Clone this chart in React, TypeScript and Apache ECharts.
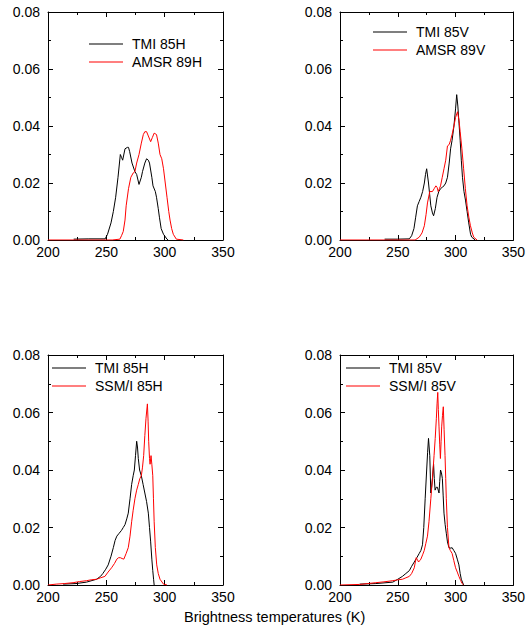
import React, { useEffect, useRef } from "react";
import * as echarts from "echarts";

// x ticks and y ticks (shared by all panels)
const xTicks = [200, 250, 300, 350];
const yTicks = [0, 0.02, 0.04, 0.06, 0.08];

// Panel 1 (top-left): TMI 85H vs AMSR 89H
const tmi85H_a: number[][] = [
  [222, 0.0003], [235, 0.0004], [249, 0.0004], [251, 0.002], [254, 0.006], [256, 0.01], [258, 0.015],
  [260, 0.022], [262, 0.03], [263, 0.029], [264, 0.028], [266, 0.032], [268, 0.0325], [269, 0.0325],
  [270, 0.031], [272, 0.027], [274.5, 0.024], [276, 0.023], [278, 0.0195], [280, 0.022], [281, 0.024],
  [283, 0.027], [284.5, 0.0285], [286, 0.028], [287, 0.027], [289, 0.022], [290, 0.019], [292, 0.017],
  [293, 0.015], [294.5, 0.011], [295.5, 0.008], [297, 0.004], [299, 0.002], [302, 0.0003], [303, 0],
];
const amsr89H: number[][] = [
  [200, 0], [255, 0], [261.6, 0.0003], [263, 0.0015], [264.5, 0.003], [266, 0.007], [267, 0.012],
  [269, 0.018], [271, 0.022], [273, 0.0235], [274.5, 0.024], [276, 0.027], [278, 0.03], [280, 0.034],
  [281.7, 0.037], [283, 0.038], [284.5, 0.038], [286, 0.0365], [288, 0.0345], [289.5, 0.036],
  [291, 0.0375], [293, 0.037], [294.5, 0.034], [296, 0.030], [297.5, 0.0285], [299, 0.025],
  [300.5, 0.02], [302, 0.015], [303.5, 0.01], [304.6, 0.007], [306, 0.004], [307.4, 0.002],
  [310, 0.0003], [316, 0],
];

// Panel 2 (top-right): TMI 85V vs AMSR 89V
const tmi85V_a: number[][] = [
  [238.6, 0.0003], [250, 0.0003], [260, 0.0004], [262, 0.0015], [264, 0.004], [265.5, 0.008],
  [267, 0.012], [268.5, 0.0135], [270, 0.015], [271.5, 0.017], [273, 0.02], [274, 0.023], [275, 0.025],
  [276.6, 0.02], [277.6, 0.016], [278.6, 0.012], [280, 0.0095], [281, 0.0085], [282.5, 0.011],
  [284, 0.015], [285.5, 0.017], [287, 0.018], [288.5, 0.0185], [290, 0.019], [291.5, 0.02],
  [293, 0.022], [294.5, 0.027], [295.7, 0.032], [297, 0.035], [298.6, 0.04], [300, 0.046],
  [301, 0.051], [302, 0.047], [303, 0.041], [304, 0.035], [305, 0.028], [306, 0.022], [307.3, 0.017],
  [308.6, 0.014], [310, 0.01], [311.4, 0.006], [313, 0.002], [314, 0.001], [317, 0],
];
const amsr89V: number[][] = [
  [200, 0], [265, 0], [268.6, 0.001], [271, 0.0025], [273, 0.005], [274.5, 0.009], [275.7, 0.013],
  [277.7, 0.017], [280, 0.017], [281.5, 0.018], [283, 0.019], [284, 0.0185], [285, 0.017],
  [286, 0.018], [287, 0.019], [288.5, 0.022], [290, 0.025], [291.5, 0.028], [293, 0.033],
  [294.5, 0.0335], [295.7, 0.035], [297, 0.037], [298.6, 0.04], [300, 0.043], [301.7, 0.045],
  [303, 0.042], [304, 0.038], [305.5, 0.032], [307, 0.025], [308.5, 0.018], [310, 0.012],
  [311.5, 0.008], [312.9, 0.005], [314.5, 0.0025], [315.7, 0.001], [318.6, 0],
];

// Panel 3 (bottom-left): TMI 85H vs SSM/I 85H
const tmi85H_b: number[][] = [
  [213, 0.0003], [224, 0.0005], [233, 0.001], [241.6, 0.002], [245, 0.003], [247, 0.004],
  [249.5, 0.0055], [251.6, 0.007], [254, 0.01], [256, 0.013], [257.5, 0.0155], [259, 0.017],
  [261, 0.018], [263, 0.019], [264.5, 0.02], [266, 0.021], [267.5, 0.023], [268.8, 0.025],
  [270.3, 0.03], [271.7, 0.035], [273, 0.038], [274, 0.04], [275, 0.045], [276, 0.05],
  [276.7, 0.048], [277.4, 0.044], [278.5, 0.04], [280, 0.038], [281.5, 0.035], [283, 0.032],
  [284.5, 0.029], [286, 0.025], [287, 0.02], [288, 0.015], [289, 0.009], [289.8, 0.005],
  [290.5, 0.002], [291, 0],
];
const ssmi85H: number[][] = [
  [200, 0], [207, 0.0003], [214, 0.0005], [221.5, 0.0008], [227, 0.0012], [233, 0.0015],
  [237, 0.0018], [241.6, 0.002], [245, 0.0025], [248.8, 0.003], [251.5, 0.0045], [254.5, 0.006],
  [257, 0.0075], [259, 0.009], [260.5, 0.0095], [262, 0.0095], [263.5, 0.0092], [265, 0.009],
  [267, 0.011], [268.8, 0.013], [270.3, 0.017], [271.7, 0.022], [273, 0.026], [274.5, 0.03],
  [276, 0.033], [277.4, 0.035], [278.7, 0.037], [280, 0.038], [281, 0.041], [282, 0.045],
  [283, 0.052], [284, 0.058], [285.2, 0.063], [285.8, 0.057], [286.3, 0.05], [287, 0.044],
  [287.5, 0.042], [288.3, 0.045], [289, 0.042], [289.8, 0.038], [290.4, 0.03], [291, 0.022],
  [292, 0.013], [293.2, 0.007], [294.5, 0.004], [296, 0.002], [299, 0.0003], [302, 0],
];

// Panel 4 (bottom-right): TMI 85V vs SSM/I 85V
const tmi85V_b: number[][] = [
  [217, 0.0003], [231, 0.0005], [245.7, 0.001], [250, 0.002], [254, 0.003], [257, 0.004],
  [260, 0.005], [262, 0.0065], [264.3, 0.008], [266.5, 0.0095], [268.6, 0.011], [270, 0.012],
  [271.4, 0.014], [272.5, 0.02], [273.7, 0.03], [275, 0.04], [275.8, 0.046], [276.6, 0.051],
  [277.7, 0.045], [278.6, 0.032], [279.3, 0.034], [280, 0.037], [281, 0.042], [281.6, 0.037],
  [282.3, 0.033], [283.3, 0.034], [284.3, 0.034], [285.7, 0.032], [286.3, 0.036], [287, 0.04],
  [287.8, 0.039], [288.6, 0.037], [289.3, 0.031], [290, 0.025], [291, 0.021], [292, 0.018],
  [293, 0.015], [294.3, 0.013], [296, 0.0128], [297, 0.013], [298.5, 0.012], [300, 0.011],
  [301.5, 0.009], [302.9, 0.007], [304, 0.004], [305, 0.002], [307, 0],
];
const ssmi85V: number[][] = [
  [200, 0], [217, 0.0002], [224, 0.0005], [231, 0.0008], [238, 0.0011], [245.7, 0.0015],
  [250, 0.0018], [254, 0.002], [257, 0.0025], [260, 0.003], [262, 0.004], [264.3, 0.006],
  [265.2, 0.008], [266, 0.0095], [267, 0.0088], [268, 0.008], [269, 0.0085], [270, 0.009],
  [271.5, 0.0105], [272.9, 0.012], [274.3, 0.0145], [275.7, 0.017], [277, 0.022], [278.6, 0.03],
  [280, 0.037], [281.4, 0.045], [282.4, 0.051], [283.4, 0.058], [284, 0.063], [284.6, 0.067],
  [285.1, 0.061], [285.7, 0.055], [286.3, 0.049], [286.9, 0.044], [287.5, 0.05], [288, 0.055],
  [288.7, 0.059], [289.4, 0.062], [290.1, 0.054], [290.9, 0.045], [291.5, 0.037], [292, 0.03],
  [293, 0.02], [294.3, 0.013], [295.5, 0.012], [297, 0.011], [298.5, 0.0085], [300, 0.006],
  [301.5, 0.0045], [302.9, 0.003], [304.5, 0.0015], [305.7, 0.0005], [307, 0],
];

const panels = [
  { names: ["TMI 85H", "AMSR 89H"], series: [tmi85H_a, amsr89H] },
  { names: ["TMI 85V", "AMSR 89V"], series: [tmi85V_a, amsr89V] },
  { names: ["TMI 85H", "SSM/I 85H"], series: [tmi85H_b, ssmi85H] },
  { names: ["TMI 85V", "SSM/I 85V"], series: [tmi85V_b, ssmi85V] },
];

const gridPos = [
  { left: 48, top: 12, width: 175, height: 228 },
  { left: 340, top: 12, width: 175, height: 228 },
  { left: 48, top: 355, width: 175, height: 230 },
  { left: 340, top: 355, width: 175, height: 230 },
];
const legendPos = [
  { left: 89, top: 36 },
  { left: 373, top: 24 },
  { left: 52, top: 360 },
  { left: 346, top: 360 },
];

const FONT = "Liberation Sans, Arial, sans-serif";
const COLORS = ["#000000", "#ff0000"];

export default function App() {
  const ref = useRef<HTMLDivElement>(null);
  useEffect(() => {
    if (!ref.current) return;
    const chart = echarts.init(ref.current, undefined, { renderer: "svg" });
    const axisCommon = {
      type: "value" as const,
      axisLine: { show: true, onZero: false, lineStyle: { color: "#000", width: 1 } },
      axisTick: { show: true, inside: true, length: 5, lineStyle: { color: "#000" } },
      minorTick: { show: true, splitNumber: 2, length: 3, lineStyle: { color: "#000" } },
      splitLine: { show: false },
    };
    const xAxes: any[] = [];
    const yAxes: any[] = [];
    const series: any[] = [];
    const legends: any[] = [];
    panels.forEach((p, i) => {
      for (const pos of ["bottom", "top"]) {
        xAxes.push({
          ...axisCommon,
          gridIndex: i,
          position: pos,
          min: xTicks[0],
          max: xTicks[xTicks.length - 1],
          interval: 50,
          axisLabel: {
            show: pos === "bottom",
            fontFamily: FONT,
            fontSize: 14,
            color: "#000",
            margin: 5,
            showMaxLabel: true,
            showMinLabel: true,
          },
        });
      }
      for (const pos of ["left", "right"]) {
        yAxes.push({
          ...axisCommon,
          gridIndex: i,
          position: pos,
          min: yTicks[0],
          max: yTicks[yTicks.length - 1],
          interval: 0.02,
          axisLabel: {
            show: pos === "left",
            fontFamily: FONT,
            fontSize: 14,
            color: "#000",
            margin: 8,
            formatter: (v: number) => v.toFixed(2),
          },
        });
      }
      p.series.forEach((d, k) => {
        series.push({
          type: "line",
          name: p.names[k],
          xAxisIndex: i * 2,
          yAxisIndex: i * 2,
          data: d,
          symbol: "none",
          showSymbol: false,
          lineStyle: { color: COLORS[k], width: 1 },
          itemStyle: { color: COLORS[k] },
          silent: true,
        });
      });
      legends.push({
        ...legendPos[i],
        padding: 0,
        orient: "vertical",
        data: p.names.map((n) => ({ name: n })),
        icon: "rect",
        itemWidth: 34,
        itemHeight: 1,
        itemGap: 2,
        selectedMode: false,
        textStyle: {
          fontFamily: FONT,
          fontSize: 14,
          color: "#000",
          lineHeight: 16,
          padding: [0, 0, 0, 4],
        },
      });
    });

    chart.setOption({
      animation: false,
      backgroundColor: "#ffffff",
      grid: gridPos.map((g) => ({ ...g, containLabel: false })),
      xAxis: xAxes,
      yAxis: yAxes,
      legend: legends,
      series,
      graphic: [
        {
          type: "text",
          left: 184,
          top: 609,
          style: {
            text: "Brightness temperatures (K)",
            fontFamily: FONT,
            fontSize: 14.5,
            fill: "#000",
          },
        },
      ],
    });
    return () => chart.dispose();
  }, []);
  return (
    <div
      ref={ref}
      style={{ position: "fixed", left: 0, top: 0, width: 528, height: 628, background: "#fff" }}
    />
  );
}
